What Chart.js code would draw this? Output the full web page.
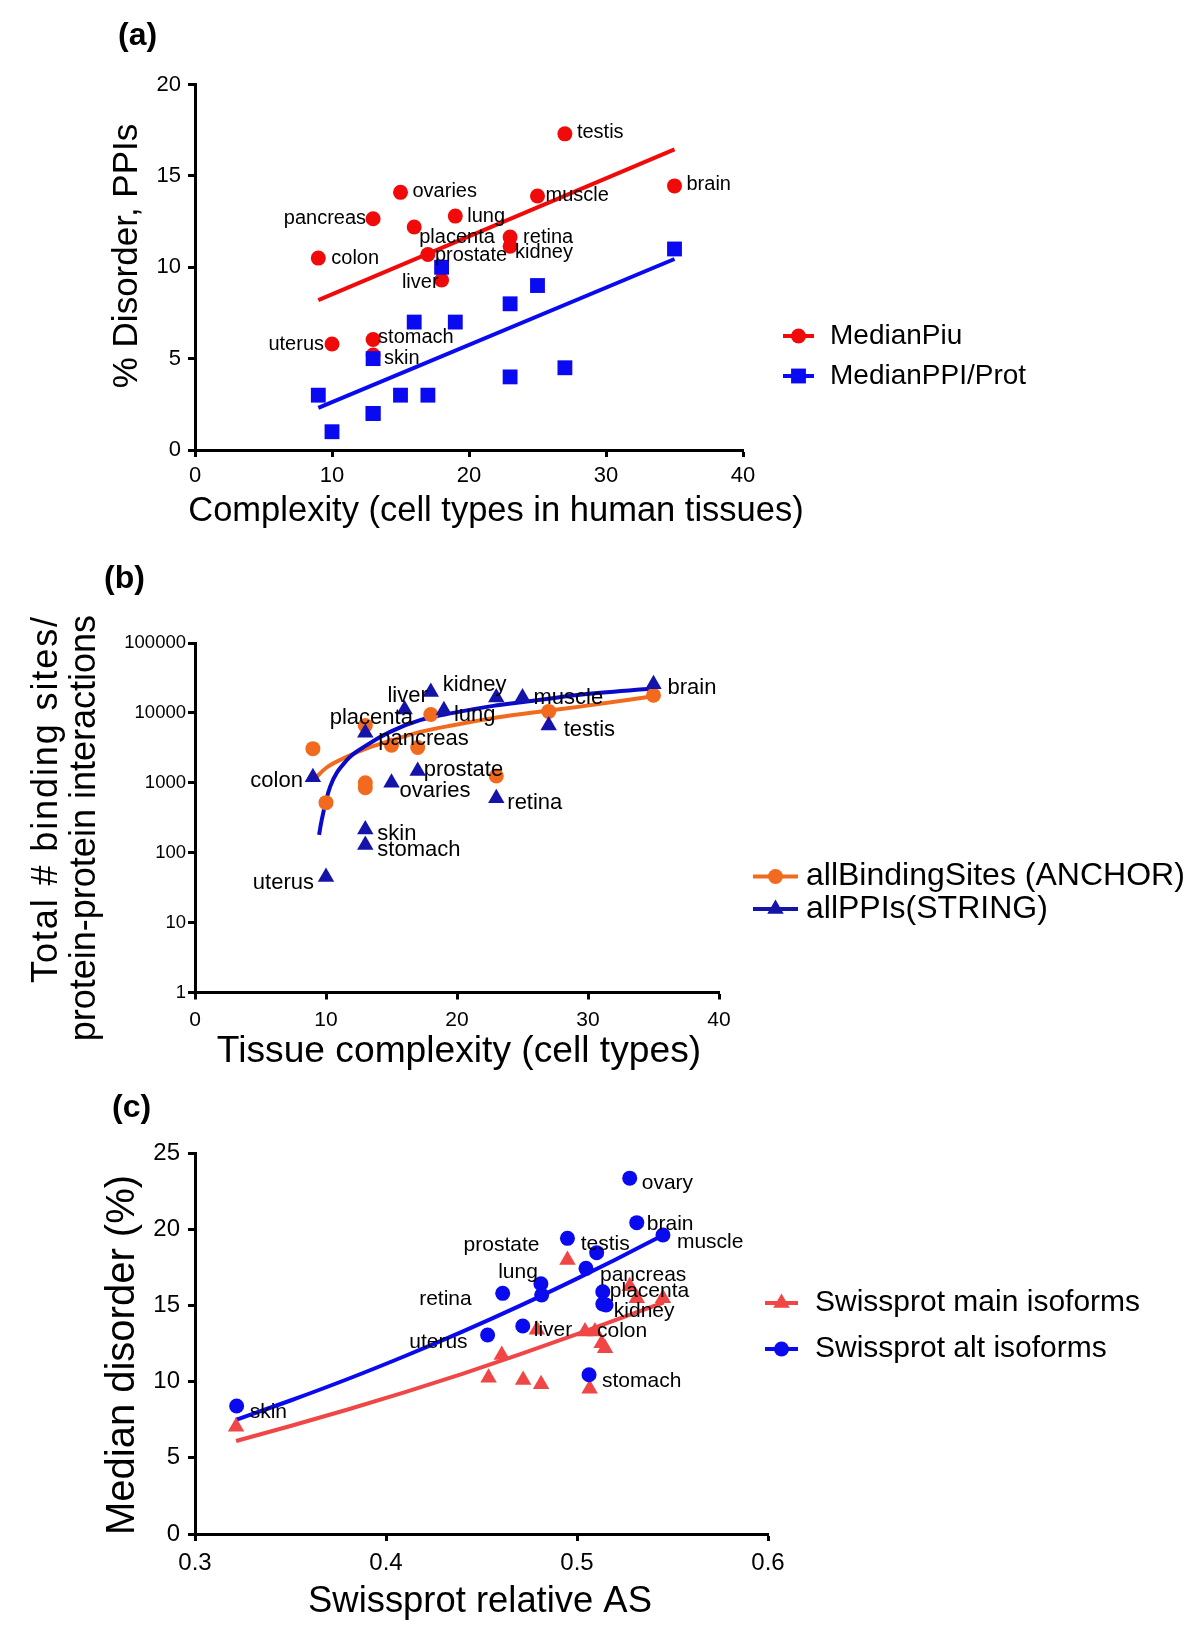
<!DOCTYPE html>
<html><head><meta charset="utf-8">
<script src="https://cdn.jsdelivr.net/npm/chart.js@4.4.1/dist/chart.umd.min.js"></script>
<style>
html,body{margin:0;padding:0;background:#fff;}
#wrap{position:relative;width:1200px;height:1636px;background:#fff;}
canvas{position:absolute;left:0;}
</style></head><body>
<div id="wrap">
<canvas id="ca" width="1200" height="545" style="top:0;width:1200px;height:545px"></canvas>
<canvas id="cb" width="1200" height="545" style="top:545px;width:1200px;height:545px"></canvas>
<canvas id="cc" width="1200" height="546" style="top:1090px;width:1200px;height:546px"></canvas>
</div>
<script>
// ---------- Panel (a) data ----------
const tissuesA   = ['testis','brain','ovaries','muscle','pancreas','lung','placenta','retina','kidney','prostate','colon','liver','uterus','stomach','skin'];
const complexityA= [27,35,15,25,13,19,16,23,23,17,9,18,10,13,13];
const medianPiu  = [17.3,14.45,14.1,13.9,12.65,12.8,12.2,11.65,11.15,10.7,10.5,9.3,5.8,6.05,5.2];
const medianPPI  = [4.5,11,3,9,2,7,7,8,4,3,3,10,1,2,5];
const fitPiuX = [9,35];
const fitPiuY = [8.2,16.45];
const fitPPIX = [9,35];
const fitPPIY = [2.3,10.45];
const xTicksA = [0,10,20,30,40];
const yTicksA = [0,5,10,15,20];

// ---------- Panel (b) data ----------
const stringX = [35,18,23,25,16,19,13,27,17,9,15,23,13,13,10];
const stringY = [25700,19950,16600,16600,11200,10900,5200,6600,1480,1200,1000,600,215,129,45];
const anchorX = [35,27,18,13,15,17,9,23,13,13,10];
const anchorY = [17900,10500,9500,6600,3450,3200,3080,1250,1000,850,520];
const fitStringX = [9.47,9.67,10.31,11.58,13.11,14.89,17.18,19.72,22.77,25.06,29.39,35];
const fitStringY = [180,292,873,2100,3450,5350,7870,10000,12600,14300,18200,22300];
const fitAnchorX = [9.03,10.05,11.58,13.11,14.89,17.18,19.72,23.03,26.84,29.39,35];
const fitAnchorY = [1090,1655,2350,3100,3970,5350,6670,8590,10700,12300,17300];
const xTicksB = [0,10,20,30,40];
const yTicksB = [1,10,100,1000,10000,100000];

// ---------- Panel (c) data ----------
const altAS  = [0.5276,0.5313,0.5450,0.4950,0.5103,0.5047,0.4811,0.4815,0.4611,0.5135,0.5135,0.5152,0.4716,0.4532,0.5063,0.3218];
const altDis = [23.35,20.43,19.62,19.40,18.46,17.43,16.42,15.68,15.79,15.90,15.09,15.03,13.65,13.06,10.45,8.40];
const mainAS  = [0.3215,0.4950,0.5276,0.5313,0.5450,0.5042,0.5094,0.5129,0.5147,0.4606,0.4790,0.4537,0.4718,0.4812,0.5066];
const mainDis = [7.03,17.98,16.25,15.47,15.47,13.28,13.28,12.51,12.19,11.75,13.40,10.25,10.10,9.82,9.53];
const fitAltX = [0.3215,0.35,0.38,0.41,0.44,0.47,0.50,0.52,0.5455];
const fitAltY = [7.5,8.76,10.17,11.68,13.28,14.97,16.76,18.0,19.64];
const fitMainX = [0.3215,0.35,0.38,0.41,0.44,0.47,0.50,0.52,0.5455];
const fitMainY = [6.1,7.09,8.17,9.31,10.51,11.78,13.11,14.03,15.2];
const xTicksC = [0.3,0.4,0.5,0.6];
const yTicksC = [0,5,10,15,20,25];

const FONT = '"Liberation Sans", Arial, Helvetica, sans-serif';
const pts = (xs, ys) => xs.map((x, i) => ({x, y: ys[i]}));

function drawMarker(ctx, style, x, y, r, color){
  ctx.save();
  ctx.fillStyle = color;
  ctx.beginPath();
  if (style === 'rect') {
    const s = Math.SQRT1_2 * r;
    ctx.rect(x - s, y - s, 2*s, 2*s);
  } else if (style === 'triangle') {
    let rad = 0;
    ctx.moveTo(x + Math.sin(rad)*r, y - Math.cos(rad)*r);
    rad += 2*Math.PI/3;
    ctx.lineTo(x + Math.sin(rad)*r, y - Math.cos(rad)*r);
    rad += 2*Math.PI/3;
    ctx.lineTo(x + Math.sin(rad)*r, y - Math.cos(rad)*r);
    ctx.closePath();
  } else {
    ctx.arc(x, y, r, 0, Math.PI*2);
  }
  ctx.fill();
  ctx.restore();
}

const deco = {
  id: 'deco',
  afterDatasetsDraw(chart, args, opts){
    const ctx = chart.ctx;
    ctx.save();
    ctx.fillStyle = '#000';
    (opts.pointLabels || []).forEach(l => {
      const el = chart.getDatasetMeta(l[0]).data[l[1]];
      if (!el) return;
      ctx.font = opts.labelSize + 'px ' + FONT;
      ctx.textAlign = l[5]; ctx.textBaseline = 'middle';
      ctx.fillText(l[2], el.x + l[3], el.y + l[4]);
    });
    (opts.texts || []).forEach(t => {
      ctx.save();
      ctx.font = (t.bold ? 'bold ' : '') + t.size + 'px ' + FONT;
      ctx.textAlign = t.align || 'center'; ctx.textBaseline = 'middle';
      if (t.spacing) ctx.letterSpacing = t.spacing + 'px';
      ctx.translate(t.x, t.y);
      if (t.rot) ctx.rotate(t.rot);
      ctx.fillText(t.text, 0, 0);
      ctx.restore();
    });
    const lg = opts.legend;
    if (lg) {
      lg.items.forEach((dsi, k) => {
        const ds = chart.data.datasets[dsi];
        const y = lg.y[k];
        ctx.strokeStyle = ds.backgroundColor; ctx.lineWidth = lg.lineWidth;
        ctx.beginPath(); ctx.moveTo(lg.x0, y); ctx.lineTo(lg.x1, y); ctx.stroke();
        drawMarker(ctx, ds.pointStyle, (lg.x0 + lg.x1)/2, y, ds.pointRadius, ds.backgroundColor);
        ctx.fillStyle = '#000';
        ctx.font = lg.size + 'px ' + FONT; ctx.textAlign = 'left'; ctx.textBaseline = 'middle';
        ctx.fillText(ds.label, lg.tx, y);
      });
    }
    ctx.restore();
  }
};

function axis(opt){
  return {
    type: opt.type || 'linear',
    min: opt.min, max: opt.max,
    border: {display: true, color: '#000', width: 3},
    grid: {display: true, drawOnChartArea: false, drawTicks: true, tickLength: opt.tl, tickWidth: 3, tickColor: '#000', color: '#000'},
    ticks: {color: '#000', font: {family: FONT, size: opt.fs}, padding: opt.pad, autoSkip: false, maxRotation: 0, minRotation: 0,
            callback: opt.fmt || (v => String(v))},
    afterBuildTicks: sc => { sc.ticks = opt.ticks.map(v => ({value: v})); },
    afterFit: sc => { if (opt.w !== undefined) sc.width = opt.w; if (opt.h !== undefined) sc.height = opt.h; }
  };
}

function scatterDs(label, data, color, style, r){
  return {label, data, backgroundColor: color, borderColor: color, pointStyle: style, pointRadius: r, pointBorderWidth: 0, pointHoverRadius: r, showLine: false, clip: false};
}
function fitDs(label, data, color, w, tension){
  return {label, data, backgroundColor: color, borderColor: color, borderWidth: w, pointRadius: 0, pointHoverRadius: 0, showLine: true, tension: tension || 0, cubicInterpolationMode: tension ? 'monotone' : 'default', clip: false, fill: false};
}

function makeChart(id, datasets, scales, padding, decoOpts){
  return new Chart(document.getElementById(id), {
    type: 'scatter',
    data: {datasets},
    options: {
      responsive: false, animation: false, events: [],
      layout: {padding},
      scales,
      plugins: {legend: {display: false}, tooltip: {enabled: false}, deco: decoOpts}
    },
    plugins: [deco]
  });
}

// ---------- Panel (a) ----------
const RED_A = '#F00A0A', BLUE_A = '#0A0AF2';
makeChart('ca', [
  scatterDs('MedianPPI/Prot', pts(complexityA, medianPPI), BLUE_A, 'rect', 10.5),
  scatterDs('MedianPiu', pts(complexityA, medianPiu), RED_A, 'circle', 7.5),
  fitDs('fitPiu', pts(fitPiuX, fitPiuY), RED_A, 4),
  fitDs('fitPPI', pts(fitPPIX, fitPPIY), BLUE_A, 4)
], {
  x: axis({min: 0, max: 40, ticks: xTicksA, fs: 22, pad: 6, tl: 7, h: 95}),
  y: axis({min: 0, max: 20, ticks: yTicksA, fs: 22, pad: 7, tl: 7, w: 195})
}, {top: 84.5, right: 457, left: 0, bottom: 0}, {
  labelSize: 20,
  pointLabels: [
    [1,0,'testis',12,-1,'left'],[1,1,'brain',12,-1,'left'],[1,2,'ovaries',12,-1,'left'],
    [1,3,'muscle',8,0,'left'],[1,4,'pancreas',-7,0,'right'],[1,5,'lung',12,0,'left'],
    [1,6,'placenta',5,10,'left'],[1,7,'retina',13,0,'left'],[1,8,'kidney',5,6,'left'],
    [1,9,'prostate',7,1,'left'],[1,10,'colon',13,0,'left'],[1,11,'liver',-3,2,'right'],
    [1,12,'uterus',-8,0,'right'],[1,13,'stomach',5,-2,'left'],[1,14,'skin',11,4,'left']
  ],
  texts: [
    {text: '(a)', x: 118, y: 36.5, size: 32, bold: true, align: 'left'},
    {text: '% Disorder, PPIs', x: 127, y: 256, size: 35, rot: -Math.PI/2},
    {text: 'Complexity (cell types in human tissues)', x: 496, y: 511, size: 34.5}
  ],
  legend: {items: [1,0], x0: 783, x1: 814, tx: 830, y: [336,376], size: 28, lineWidth: 4}
});

// ---------- Panel (b) ----------
const ORANGE_B = '#F26A1E', BLUE_B = '#1414AA', BLUE_B_LINE = '#0A0AC8';
makeChart('cb', [
  scatterDs('allPPIs(STRING)', pts(stringX, stringY), BLUE_B, 'triangle', 9.5),
  scatterDs('allBindingSites (ANCHOR)', pts(anchorX, anchorY), ORANGE_B, 'circle', 7.5),
  fitDs('fitString', pts(fitStringX, fitStringY), BLUE_B_LINE, 4, 0.4),
  fitDs('fitAnchor', pts(fitAnchorX, fitAnchorY), ORANGE_B, 4, 0.4)
], {
  x: axis({min: 0, max: 40, ticks: xTicksB, fs: 21, pad: 8, tl: 7, h: 97.5}),
  y: axis({type: 'logarithmic', min: 1, max: 100000, ticks: yTicksB, fs: 18.5, pad: 2, tl: 7, w: 195})
}, {top: 98, right: 481, left: 0, bottom: 0}, {
  labelSize: 22,
  pointLabels: [
    [0,0,'brain',14,4,'left'],[0,1,'kidney',12,-7,'left'],[0,1,'liver',-3,4,'right'],
    [0,3,'muscle',11,0,'left'],[0,5,'lung',10,5,'left'],[0,6,'placenta',6,-15,'center'],
    [0,6,'pancreas',13,6,'left'],[0,8,'prostate',6,-1,'left'],[0,9,'colon',-10,4,'right'],
    [0,10,'ovaries',8,8,'left'],[0,11,'retina',11,5,'left'],[0,7,'testis',15,4,'left'],
    [0,12,'skin',12,4,'left'],[0,13,'stomach',12,5,'left'],[0,14,'uterus',-12,6,'right']
  ],
  texts: [
    {text: '(b)', x: 104, y: 34, size: 32, bold: true, align: 'left'},
    {text: 'Total # binding sites/', x: 47, y: 70, size: 36, rot: -Math.PI/2, align: 'right', spacing: 1.9},
    {text: 'protein-protein interactions', x: 85, y: 70, size: 36, rot: -Math.PI/2, align: 'right'},
    {text: 'Tissue complexity (cell types)', x: 459, y: 507, size: 37.2}
  ],
  legend: {items: [1,0], x0: 753, x1: 798, tx: 806, y: [331.5,364], size: 32, lineWidth: 4}
});

// ---------- Panel (c) ----------
const RED_C = '#F04646', BLUE_C = '#0A0AF0';
makeChart('cc', [
  scatterDs('Swissprot alt isoforms', pts(altAS, altDis), BLUE_C, 'circle', 7.5),
  scatterDs('Swissprot main isoforms', pts(mainAS, mainDis), RED_C, 'triangle', 9.5),
  fitDs('fitAlt', pts(fitAltX, fitAltY), BLUE_C, 4, 0.4),
  fitDs('fitMain', pts(fitMainX, fitMainY), RED_C, 4, 0.4)
], {
  x: axis({min: 0.3, max: 0.6, ticks: xTicksC, fs: 24, pad: 8, tl: 7, h: 102, fmt: v => Number(v).toFixed(1)}),
  y: axis({min: 0, max: 25, ticks: yTicksC, fs: 24, pad: 8, tl: 7, w: 195})
}, {top: 63, right: 432, left: 0, bottom: 0}, {
  labelSize: 21,
  pointLabels: [
    [0,0,'ovary',12,5,'left'],[0,1,'brain',10,2,'left'],[0,2,'muscle',14,7,'left'],
    [0,3,'prostate',-28,7,'right'],[0,4,'testis',-16,-8,'left'],[0,6,'lung',-3,-12,'right'],
    [0,8,'retina',-31,6,'right'],[0,5,'pancreas',14,7,'left'],[0,9,'placenta',7,0,'left'],
    [0,10,'kidney',11,7,'left'],[0,12,'liver',11,4,'left'],[1,6,'colon',2,0,'left'],
    [0,13,'uterus',-20,7,'right'],[0,14,'stomach',13,6,'left'],[0,15,'skin',13,6,'left']
  ],
  texts: [
    {text: '(c)', x: 112, y: 18, size: 32, bold: true, align: 'left'},
    {text: 'Median disorder (%)', x: 123, y: 265, size: 40, rot: -Math.PI/2},
    {text: 'Swissprot relative AS', x: 480, y: 512, size: 36.4}
  ],
  legend: {items: [1,0], x0: 765, x1: 798, tx: 815, y: [213,259], size: 30, lineWidth: 4}
});
</script>
</body></html>
